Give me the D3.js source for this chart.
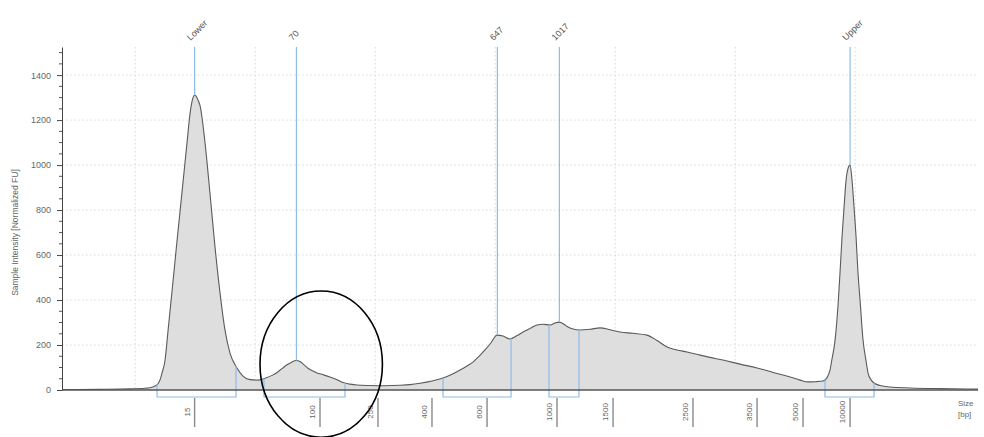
<!DOCTYPE html>
<html>
<head>
<meta charset="utf-8">
<script src="https://cdn.jsdelivr.net/npm/d3@7/dist/d3.min.js"></script>
<style>
  html, body { margin: 0; padding: 0; background: #fff; }
  svg { display: block; font-family: "Liberation Sans", Arial, sans-serif; }
</style>
</head>
<body>
<svg id="chart" width="984" height="437"></svg>
<script>
// Ladder sizes (bp) and their migration distance (% of run)
const ladderBp   = [15, 100, 250, 400, 600, 1000, 1500, 2500, 3500, 5000, 10000];
const ladderDist = [14.95, 25.4, 30.23, 34.73, 39.32, 45.15, 49.82, 56.48, 61.82, 65.65, 69.57];

// Y axis ticks (normalized FU)
const yTicks = [0, 200, 400, 600, 800, 1000, 1200, 1400];
const yMinorTicks = d3.range(0, 1501, 50);

// Distance grid lines
const distGrid = [10, 20, 30, 40, 50, 60, 70];

// Electropherogram trace: migration distance
const traceDist = [
  3.90, 7.07, 9.57, 10.82, 11.23, 11.65, 11.90, 12.07, 12.23, 12.48, 12.73, 13.07, 13.48, 13.90,
  14.32, 14.57, 14.82, 14.95, 15.23, 15.40, 15.82, 16.23, 16.65, 17.07, 17.48, 17.90, 18.48,
  18.98, 19.57, 20.23, 20.82, 21.40, 21.82, 22.23, 22.65, 23.07, 23.40, 23.73, 24.07,
  24.40, 24.82, 25.15, 25.65, 26.23, 26.82, 27.32, 27.90, 28.48, 29.57, 30.82, 32.07,
  32.90, 33.73, 34.73, 35.65, 36.40, 37.07, 37.65, 38.15, 38.65, 39.15, 39.65, 40.15,
  40.65, 41.23, 41.82, 42.32, 42.90, 43.48, 43.98, 44.57, 44.98, 45.35, 45.73, 46.07,
  46.48, 47.07, 47.90, 48.73, 49.57, 50.40, 51.48, 52.65, 53.48, 54.32, 55.15, 55.98,
  57.07, 57.90, 58.98, 60.40, 61.82, 63.15, 64.57, 65.40, 66.07, 66.65, 67.32, 67.65,
  67.90, 68.07, 68.32, 68.57, 68.73, 68.90, 69.07, 69.23, 69.40, 69.57, 69.73, 69.90,
  70.07, 70.23, 70.40, 70.65, 70.90, 71.07, 71.32, 71.57, 72.07, 72.90, 74.57, 77.07, 80.23
];
// ...and its intensity (normalized FU)
const traceFU = [
  2, 3, 5, 8, 10, 18, 28, 45, 75, 130, 260, 440, 660, 880,
  1100, 1230, 1300, 1311, 1290, 1265, 1098, 875, 636, 431, 267, 164, 98,
  62, 46, 44, 52, 65, 78, 95, 112, 125, 131, 127, 112,
  97, 84, 76, 68, 58, 46, 33, 26, 22, 20, 19, 21,
  24, 30, 40, 53, 70, 89, 107, 124, 150, 178, 210, 244,
  240, 227, 242, 258, 274, 289, 292, 289, 298, 302, 292, 280,
  271, 267, 270, 276, 268, 258, 252, 244, 220, 191, 178, 169,
  155, 145, 133, 115, 98, 78, 58, 44, 36, 37, 40, 55,
  89, 140, 222, 380, 520, 680, 813, 930, 985, 1000, 935, 813,
  680, 520, 400, 222, 130, 75, 45, 31, 20, 13, 9, 6, 4
];

// Called peaks
const peakNames = ["Lower", "70", "647", "1017", "Upper"];
const peakBp    = [15, 70, 647, 1017, 10000];
const peakFU    = [1311, 131, 244, 302, 1000];

// Integration regions per peak (migration distance)
const regionStart = [11.82, 20.73, 35.65, 44.48, 67.48];
const regionEnd   = [18.40, 27.48, 41.32, 46.98, 71.57];

// Highlighted area around the 70 bp peak (distance, FU)
const highlightDist = [20.4, 30.6];
const highlightFU   = [-210, 440];

const svg = d3.select("#chart");
const plotL = 62, plotR = 978, plotT = 47, plotB = 390;

const x = d3.scaleLinear().domain([3.9, 80.23]).range([plotL, plotR]);
const y = d3.scaleLinear().domain([0, 1525]).range([plotB, plotT]);
const sizeToDist = d3.scaleLog().domain(ladderBp).range(ladderDist);

const trace = traceDist.map((d, i) => ({ d, v: traceFU[i] }));
const fuAt = d => {
  const i = d3.bisector(p => p.d).left(trace, d);
  if (i <= 0) return trace[0].v;
  if (i >= trace.length) return trace[trace.length - 1].v;
  const a = trace[i - 1], b = trace[i];
  return a.v + (b.v - a.v) * (d - a.d) / (b.d - a.d);
};

// Grid
const grid = svg.append("g").attr("stroke", "#d9d9d9").attr("stroke-dasharray", "1.5,2.5");
grid.selectAll("line.h").data(yTicks.slice(1)).join("line")
  .attr("x1", plotL).attr("x2", plotR)
  .attr("y1", d => y(d)).attr("y2", d => y(d));
grid.selectAll("line.v").data(distGrid).join("line")
  .attr("x1", d => x(d)).attr("x2", d => x(d))
  .attr("y1", plotT).attr("y2", plotB);

// Trace
const area = d3.area().x(p => x(p.d)).y0(y(0)).y1(p => y(p.v)).curve(d3.curveMonotoneX);
const line = d3.line().x(p => x(p.d)).y(p => y(p.v)).curve(d3.curveMonotoneX);
svg.append("path").datum(trace).attr("d", area).attr("fill", "#dedede");
svg.append("path").datum(trace).attr("d", line)
  .attr("fill", "none").attr("stroke", "#5a5a5a").attr("stroke-width", 1.1);

// Peak markers
const blue = "#8fbbe8";
const peaks = peakNames.map((name, i) => ({ name, dist: sizeToDist(peakBp[i]), fu: peakFU[i] }));
svg.append("g").selectAll("line").data(peaks).join("line")
  .attr("x1", p => x(p.dist)).attr("x2", p => x(p.dist))
  .attr("y1", plotT).attr("y2", p => y(p.fu))
  .attr("stroke", blue).attr("stroke-width", 1.2);
svg.append("g").selectAll("text").data(peaks).join("text")
  .attr("transform", p => `translate(${x(p.dist) - 4},41) rotate(-45)`)
  .attr("font-size", 9).attr("fill", "#555")
  .text(p => p.name);

// Integration brackets
const bracketY = plotB + 7;
const regions = regionStart.map((s, i) => ({ s, e: regionEnd[i] }));
svg.append("g").selectAll("path").data(regions).join("path")
  .attr("d", r => `M${x(r.s)},${y(fuAt(r.s))}V${bracketY}H${x(r.e)}V${y(fuAt(r.e))}`)
  .attr("fill", "none").attr("stroke", blue).attr("stroke-width", 1.2);

// X axis line
svg.append("line").attr("x1", plotL).attr("x2", plotR).attr("y1", plotB).attr("y2", plotB)
  .attr("stroke", "#555").attr("stroke-width", 1.3);

// Ladder ticks below the axis
const ladder = ladderBp.map((bp, i) => ({ bp, d: ladderDist[i] }));
const lt = svg.append("g").selectAll("g").data(ladder).join("g")
  .attr("transform", l => `translate(${x(l.d)},0)`);
lt.append("line").attr("y1", plotB + 8).attr("y2", plotB + 37)
  .attr("stroke", "#8a8a8a").attr("stroke-width", 1.4);
lt.append("text")
  .attr("transform", `translate(-5,${plotB + 22}) rotate(-90)`)
  .attr("text-anchor", "middle").attr("font-size", 8).attr("fill", "#666")
  .text(l => l.bp);

svg.append("text").attr("x", 958).attr("y", 406).attr("font-size", 8).attr("fill", "#666").text("Size");
svg.append("text").attr("x", 958).attr("y", 417).attr("font-size", 8).attr("fill", "#666").text("[bp]");

// Y axis
const yAxis = svg.append("g").attr("transform", `translate(${plotL},0)`)
  .call(d3.axisLeft(y).tickValues(yTicks).tickFormat(d3.format("d"))
    .tickSize(5).tickSizeOuter(0).tickPadding(6));
yAxis.select(".domain").attr("stroke", "#444");
yAxis.selectAll(".tick line").attr("stroke", "#444");
yAxis.selectAll("text").attr("font-size", 9).attr("fill", "#666")
  .attr("font-family", "'Liberation Sans', Arial, sans-serif");
svg.append("g").attr("transform", `translate(${plotL},0)`)
  .selectAll("line").data(yMinorTicks.filter(v => !yTicks.includes(v))).join("line")
  .attr("x1", -3).attr("x2", 0).attr("y1", v => y(v)).attr("y2", v => y(v))
  .attr("stroke", "#555");

svg.append("text")
  .attr("transform", `translate(18,${(y(0) + y(1400)) / 2}) rotate(-90)`)
  .attr("text-anchor", "middle").attr("font-size", 8.5).attr("fill", "#666")
  .text("Sample Intensity [Normalized FU]");

// Highlight ellipse around the small peak
svg.append("ellipse")
  .attr("cx", (x(highlightDist[0]) + x(highlightDist[1])) / 2)
  .attr("cy", (y(highlightFU[0]) + y(highlightFU[1])) / 2)
  .attr("rx", (x(highlightDist[1]) - x(highlightDist[0])) / 2)
  .attr("ry", (y(highlightFU[0]) - y(highlightFU[1])) / 2)
  .attr("fill", "none").attr("stroke", "#000").attr("stroke-width", 1.6);
</script>
</body>
</html>
